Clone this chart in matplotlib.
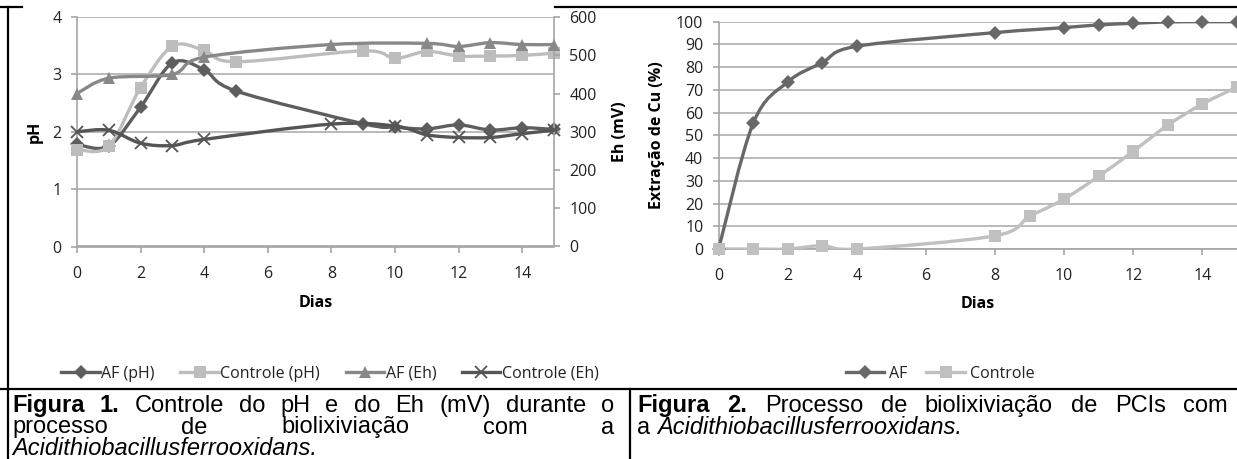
import numpy as np
import matplotlib
matplotlib.use("Agg")
import matplotlib.pyplot as plt
from matplotlib.path import Path
from matplotlib.patches import PathPatch
from matplotlib.lines import Line2D

# ---- data ----
dias_ph = [0, 1, 2, 3, 4, 5, 9, 10, 11, 12, 13, 14, 15]
ph_af = [1.78, 1.75, 2.43, 3.20, 3.08, 2.71, 2.14, 2.08, 2.05, 2.12, 2.03, 2.07, 2.04]
ph_controle = [1.69, 1.75, 2.77, 3.49, 3.42, 3.22, 3.41, 3.28, 3.40, 3.32, 3.32, 3.33, 3.37]

dias_eh_af = [0, 1, 3, 4, 8, 11, 12, 13, 14, 15]
eh_af = [400, 440, 450, 495, 528, 531, 523, 533, 528, 528]
dias_eh_controle = [0, 1, 2, 3, 4, 8, 10, 11, 12, 13, 14, 15]
eh_controle = [300, 304, 270, 264, 280, 320, 315, 292, 285, 285, 295, 304]

dias_cu_af = [0, 1, 2, 3, 4, 8, 10, 11, 12, 13, 14, 15]
cu_af = [0, 55.3, 73.5, 82, 89.2, 95.2, 97.4, 98.6, 99.3, 99.9, 100, 100]
dias_cu_controle = [0, 1, 2, 3, 4, 8, 9, 10, 11, 12, 13, 14, 15]
cu_controle = [0, 0, 0, 1.5, 0, 5.8, 14.3, 22, 32, 43, 54.5, 63.8, 71.2]

W, H = 1237, 459
plt.rcParams['font.family'] = ['Open Sans', 'DejaVu Sans']
FS = 11.5
GRID = '#b4b4b4'
SPINE = '#a6a6a6'

fig = plt.figure(figsize=(W / 100, H / 100), dpi=100)


def px_axes(x0, y0, x1, y1):
    # pixel box (top-left origin) -> axes
    return fig.add_axes([x0 / W, 1 - y1 / H, (x1 - x0) / W, (y1 - y0) / H])


def smooth(ax, x, y, color, lw=2.4):
    # excel-like smoothed line (catmull-rom as bezier)
    p = np.column_stack([x, y]).astype(float)
    n = len(p)
    verts, codes = [p[0]], [Path.MOVETO]
    for i in range(n - 1):
        p0 = p[i - 1] if i > 0 else p[i]
        p3 = p[i + 2] if i + 2 < n else p[i + 1]
        verts += [p[i] + (p[i + 1] - p0) / 6, p[i + 1] - (p3 - p[i]) / 6, p[i + 1]]
        codes += [Path.CURVE4] * 3
    ax.add_patch(PathPatch(Path(verts, codes), fill=False, edgecolor=color, lw=lw,
                           capstyle='round', joinstyle='round', zorder=3))


def series(ax, x, y, color, marker, ms, mew=0):
    smooth(ax, x, y, color)
    ax.plot(x, y, ls='none', marker=marker, ms=ms, color=color, mew=mew,
            clip_on=False, zorder=4)
    return Line2D([], [], color=color, lw=2.4, marker=marker, ms=ms, mew=mew)


def style(ax):
    for s in ax.spines.values():
        s.set_color(SPINE)
        s.set_linewidth(1.2)
    ax.spines['top'].set_visible(False)
    ax.tick_params(colors=SPINE, labelcolor='#222222', labelsize=FS, length=4, width=1.2)
    ax.tick_params(axis='x', pad=10)
    ax.tick_params(axis='y', pad=7)


# ---- Figura 1 ----
ax = px_axes(77, 17, 554, 246.5)
ax.set_xlim(0, 15)
ax.set_ylim(0, 4)
ax.set_xticks(range(0, 16, 2))
ax.set_yticks(range(0, 5))
ax.grid(axis='y', color=GRID, lw=1.3)
ax.set_axisbelow(True)
style(ax)
ax.spines['right'].set_visible(False)
ax.set_xlabel('Dias', fontsize=FS, fontweight='bold')
ax.xaxis.set_label_coords(0.5, -0.245)
ax.xaxis.label.set_va('center')
ax.set_ylabel('pH', fontsize=FS, fontweight='bold')
ax.yaxis.set_label_coords(-0.088, 0.5)
ax.yaxis.label.set_va('center')

h1 = series(ax, dias_ph, ph_af, '#5e5e5e', 'D', 7)
h2 = series(ax, dias_ph, ph_controle, '#bdbdbd', 's', 8)

ax2 = ax.twinx()
ax2.set_ylim(0, 600)
ax2.set_yticks(range(0, 601, 100))
style(ax2)
ax2.spines['left'].set_visible(False)
ax2.set_ylabel('Eh (mV)', fontsize=FS, fontweight='bold')
ax2.yaxis.set_label_coords(1.138, 0.5)
ax2.yaxis.label.set_va('center')
h3 = series(ax2, dias_eh_af, eh_af, '#888888', '^', 8)
h4 = series(ax2, dias_eh_controle, eh_controle, '#555555', 'x', 8, mew=1.3)

fig.legend([h1, h2, h3, h4], ['AF (pH)', 'Controle (pH)', 'AF (Eh)', 'Controle (Eh)'],
           loc='center', bbox_to_anchor=(330 / W, 1 - 374 / H), ncol=4, frameon=False,
           fontsize=11.5, handlelength=2.4, handletextpad=0.1, columnspacing=1.6,
           labelcolor='#222222')

# ---- Figura 2 ----
bx = px_axes(718.6, 21.7, 1236.9, 249)
bx.set_xlim(0, 15)
bx.set_ylim(0, 100)
bx.set_xticks(range(0, 16, 2))
bx.set_yticks(range(0, 101, 10))
bx.grid(axis='y', color=GRID, lw=1.3)
bx.set_axisbelow(True)
style(bx)
bx.spines['right'].set_visible(False)
bx.set_xlabel('Dias', fontsize=FS, fontweight='bold')
bx.xaxis.set_label_coords(0.5, -0.24)
bx.xaxis.label.set_va('center')
bx.set_ylabel('Extração de Cu (%)', fontsize=FS, fontweight='bold')
bx.yaxis.set_label_coords(-0.119, 0.5)
bx.yaxis.label.set_va('center')
g1 = series(bx, dias_cu_af, cu_af, '#686868', 'D', 7)
g2 = series(bx, dias_cu_controle, cu_controle, '#c0c0c0', 's', 8)

fig.legend([g1, g2], ['AF', 'Controle'], loc='center', bbox_to_anchor=(940 / W, 1 - 374 / H),
           ncol=2, frameon=False, fontsize=11.5, handlelength=2.4, handletextpad=0.3,
           columnspacing=1.2, labelcolor='#222222')


# ---- table borders ----
def hline(x0, x1, y, lw=1.6):
    fig.add_artist(Line2D([x0 / W, x1 / W], [1 - y / H, 1 - y / H], color='black', lw=lw))


def vline(x, y0, y1, lw=1.6):
    fig.add_artist(Line2D([x / W, x / W], [1 - y0 / H, 1 - y1 / H], color='black', lw=lw))


hline(0, W, 389)
hline(0, 22, 7)
hline(555, W, 7)
vline(8, 7, H)
vline(630, 389, H)

# ---- captions (justified) ----
CAP = 17
CAPFONT = ['Liberation Sans', 'DejaVu Sans']
renderer = fig.canvas.get_renderer()


def caption_line(words, x0, y, x1=None):
    arts = []
    for text, kw in words:
        t = fig.text(0, 1 - y / H, text, fontsize=CAP, family=CAPFONT, va='baseline', **kw)
        arts.append(t)
    widths = [a.get_window_extent(renderer).width for a in arts]
    if x1 is None:
        gap = CAP * 100 / 72 * 0.278
    else:
        gap = (x1 - x0 - sum(widths)) / (len(arts) - 1)
    x = x0
    for a, w in zip(arts, widths):
        a.set_x(x / W)
        x += w + gap


B = dict(fontweight='bold')
R = dict()
I = dict(fontstyle='italic')

caption_line([('Figura', B), ('1.', B)] + [(w, R) for w in 'Controle do pH e do Eh (mV) durante o'.split()],
             12, 412, 614)
caption_line([(w, R) for w in 'processo de biolixiviação com a'.split()], 12, 433.5, 614)
caption_line([('Acidithiobacillusferrooxidans.', I)], 12, 455)
caption_line([('Figura', B), ('2.', B)] + [(w, R) for w in 'Processo de biolixiviação de PCIs com'.split()],
             637, 412, 1228)
caption_line([('a', R), ('Acidithiobacillusferrooxidans.', I)], 637, 433.5)

fig.savefig('out.png', dpi=100)
